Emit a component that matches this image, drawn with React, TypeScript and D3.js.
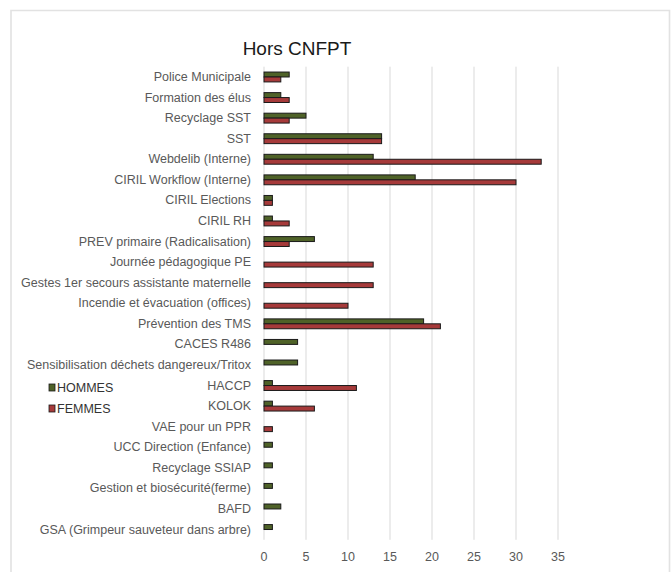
import React from "react";
import * as d3 from "d3";

const categories = [
  "Police Municipale",
  "Formation des élus",
  "Recyclage SST",
  "SST",
  "Webdelib (Interne)",
  "CIRIL Workflow (Interne)",
  "CIRIL Elections",
  "CIRIL RH",
  "PREV primaire (Radicalisation)",
  "Journée pédagogique PE",
  "Gestes 1er secours assistante maternelle",
  "Incendie et évacuation (offices)",
  "Prévention des TMS",
  "CACES R486",
  "Sensibilisation déchets dangereux/Tritox",
  "HACCP",
  "KOLOK",
  "VAE pour un PPR",
  "UCC Direction (Enfance)",
  "Recyclage SSIAP",
  "Gestion et biosécurité(ferme)",
  "BAFD",
  "GSA (Grimpeur sauveteur dans arbre)",
];
const hommes = [3, 2, 5, 14, 13, 18, 1, 1, 6, 0, 0, 0, 19, 4, 4, 1, 1, 0, 1, 1, 1, 2, 1];
const femmes = [2, 3, 3, 14, 33, 30, 1, 3, 3, 13, 13, 10, 21, 0, 0, 11, 6, 1, 0, 0, 0, 0, 0];
const xTicks = [0, 5, 10, 15, 20, 25, 30, 35];
const seriesNames = ["HOMMES", "FEMMES"];
const seriesColors = ["#4F6228", "#A63A3A"];

const FONT = "'Liberation Sans Narrow', 'Arial Narrow', 'Liberation Sans', Arial, sans-serif";

export default function App() {
  const W = 671, H = 572;
  const left = 264, right = 558, top = 66.7, bottom = 539.8;
  const x = d3.scaleLinear().domain([0, 35]).range([left, right]);
  const y = d3.scaleBand<string>().domain(categories).range([top, bottom]).paddingInner(0.52).paddingOuter(0.26);
  const sub = d3.scaleBand<number>().domain([0, 1]).range([0, y.bandwidth()]);
  const series = [hommes, femmes];

  return (
    <div style={{ position: "absolute", left: 0, top: 0 }}>
      <svg width={W} height={H} style={{ display: "block", background: "#fff" }}>
        <rect x={0} y={0} width={W} height={H} fill="#fff" />
        <path d={`M11,${H} V10.5 H669.5 V${H}`} fill="none" stroke="#e2e2e2" strokeWidth={1.6} />
        <text x={297} y={55} textAnchor="middle" fontFamily={FONT} fontSize={19} fill="#1a1a1a">
          Hors CNFPT
        </text>
        {xTicks.map((t) => (
          <g key={t}>
            <line x1={x(t)} x2={x(t)} y1={top} y2={bottom} stroke="#d9d9d9" strokeWidth={1} />
            <text x={x(t)} y={561} textAnchor="middle" fontFamily={FONT} fontSize={12.5} fill="#595959">
              {t}
            </text>
          </g>
        ))}
        {categories.map((c, i) => (
          <g key={c}>
            <text
              x={251}
              y={(y(c) as number) + y.bandwidth() / 2 + 4}
              textAnchor="end"
              fontFamily={FONT}
              fontSize={12.5}
              fill="#595959"
            >
              {c}
            </text>
            {series.map((s, k) =>
              s[i] > 0 ? (
                <rect
                  key={k}
                  x={x(0)}
                  y={(y(c) as number) + (sub(k) as number)}
                  width={x(s[i]) - x(0)}
                  height={sub.bandwidth()}
                  fill={seriesColors[k]}
                  stroke="#1a1a1a"
                  strokeWidth={1}
                />
              ) : null
            )}
          </g>
        ))}
        {seriesNames.map((n, k) => (
          <g key={n}>
            <rect x={49} y={384 + k * 21} width={6} height={7} fill={seriesColors[k]} stroke="#1a1a1a" strokeWidth={0.8} />
            <text x={57} y={392 + k * 21} fontFamily={FONT} fontSize={12.5} fill="#333">
              {n}
            </text>
          </g>
        ))}
      </svg>
    </div>
  );
}
